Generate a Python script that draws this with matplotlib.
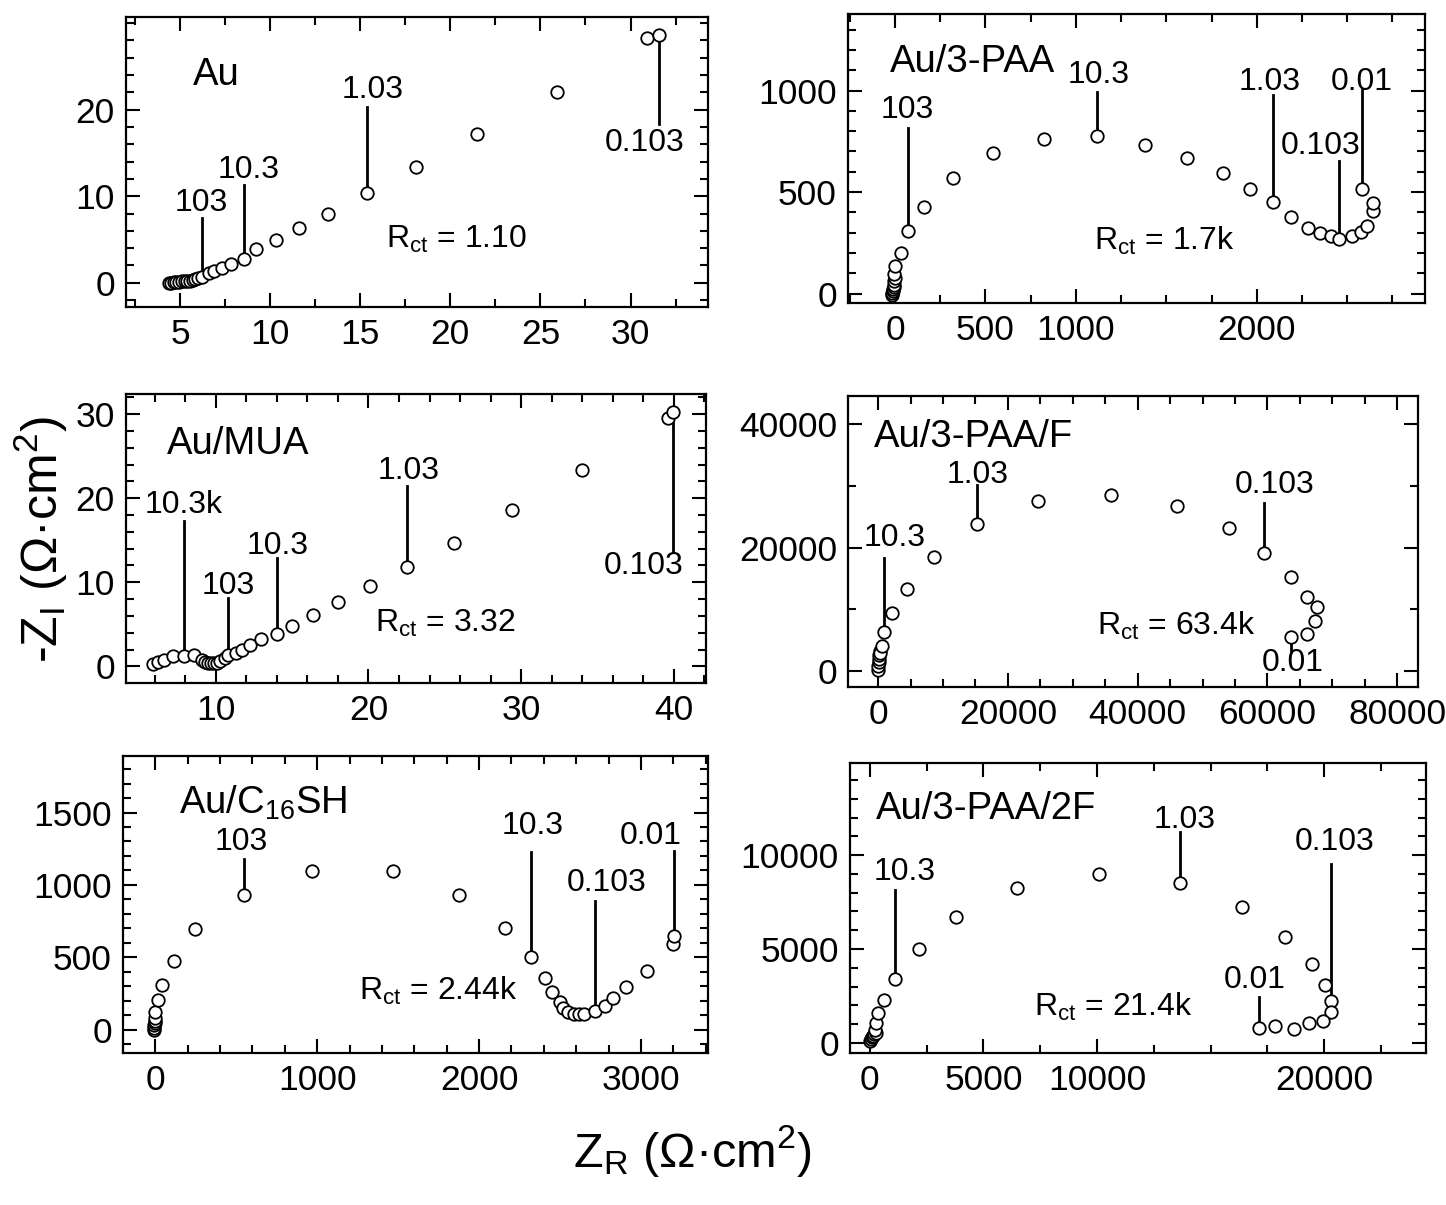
import matplotlib
matplotlib.use('Agg')
import matplotlib.pyplot as plt
from matplotlib.ticker import MultipleLocator, FixedLocator, FuncFormatter

plt.rcParams['font.family'] = ['Liberation Sans', 'DejaVu Sans']
plt.rcParams['mathtext.fontset'] = 'custom'
plt.rcParams['mathtext.rm'] = 'Liberation Sans'
plt.rcParams['mathtext.it'] = 'Liberation Sans'
plt.rcParams['mathtext.bf'] = 'Liberation Sans'

# ---------------- data ----------------
# Au
au_zr = [4.36, 4.5, 4.65, 4.8, 4.95, 5.1, 5.25, 5.4, 5.55, 5.7, 5.85, 6.0, 6.2, 6.6, 6.9, 7.35, 7.8,
         8.55, 9.2, 10.3, 11.6, 13.2, 15.4, 18.1, 21.5, 25.9, 30.9, 31.6]
au_zi = [-0.05, 0.0, 0.05, 0.1, 0.1, 0.15, 0.15, 0.2, 0.2, 0.3, 0.4, 0.5, 0.7, 1.1, 1.4, 1.75, 2.2,
         2.8, 3.9, 4.9, 6.3, 8.0, 10.4, 13.4, 17.2, 22.0, 28.3, 28.6]
au_lab = ['103', '10.3', '1.03', '0.103']
au_lab_idx = [12, 17, 22, 27]
au_lab_end = [7.45, 11.3, 20.3, 18.3]
au_lab_tx = [6.2, 8.8, 15.7, 30.8]
au_lab_ty = [9.2, 13.05, 22.3, 16.1]

# Au/3-PAA
paa_zr = [-15, -14, -12, -10, -8, -6, -4, -2, -8, 0, 31, 69, 158, 319, 541, 821, 1115, 1383, 1612,
          1811, 1964, 2089, 2191, 2281, 2352, 2408, 2454, 2526, 2574, 2607, 2645, 2640, 2582]
paa_zi = [-5, 5, 15, 25, 35, 45, 60, 75, 98, 134, 200, 307, 427, 571, 693, 762, 775, 734, 669,
          592, 514, 449, 378, 321, 297, 282, 269, 282, 302, 334, 405, 445, 514]
paa_lab = ['103', '10.3', '1.03', '0.103', '0.01']
paa_lab_idx = [11, 16, 21, 26, 32]
paa_lab_end = [816, 995, 979, 652, 1003]
paa_lab_tx = [69, 1128, 2071, 2352, 2582]
paa_lab_ty = [905, 1077, 1044, 726, 1044]

# Au/MUA
mua_zr = [5.93, 6.23, 6.6, 7.2, 7.9, 8.55, 9.1, 9.3, 9.5, 9.7, 9.9, 10.1, 10.3, 10.6, 10.8, 11.3,
          11.75, 12.26, 12.95, 14.0, 15.0, 16.4, 18.0, 20.1, 22.5, 25.6, 29.4, 34.0, 39.6, 39.96]
mua_zi = [0.24, 0.5, 0.8, 1.2, 1.23, 1.3, 0.8, 0.5, 0.4, 0.35, 0.35, 0.4, 0.6, 1.0, 1.3, 1.6,
          2.0, 2.6, 3.2, 3.8, 4.8, 6.1, 7.6, 9.5, 11.8, 14.7, 18.6, 23.4, 29.5, 30.2]
mua_lab = ['10.3k', '103', '10.3', '1.03', '0.103']
mua_lab_idx = [4, 14, 19, 24, 29]
mua_lab_end = [17.25, 8.1, 12.9, 21.4, 13.7]
mua_lab_tx = [7.9, 10.8, 14.07, 22.65, 38.0]
mua_lab_ty = [19.2, 9.56, 14.3, 23.2, 11.9]

# Au/3-PAA/F
f_zr = [0, 50, 100, 150, 200, 250, 357, 570, 860, 2140, 4500, 8570, 15200, 24640, 35930, 46070,
        54070, 59500, 63570, 66070, 67710, 67360, 66070, 63700]
f_zi = [200, 800, 1400, 2000, 2600, 3200, 2860, 4100, 6270, 9350, 13300, 18540, 23800, 27600,
        28490, 26760, 23140, 19190, 15190, 12050, 10320, 8160, 6000, 5570]
f_lab = ['10.3', '1.03', '0.103', '0.01']
f_lab_idx = [8, 12, 17, 23]
f_lab_end = [18270, 30050, 27190, 3135]
f_lab_tx = [2500, 15360, 61070, 63930]
f_lab_ty = [21500, 31680, 30160, 1240]

# Au/C16SH
c16_zr = [-10, -8, -6, -4, -2, 0, 0, 14, 43, 114, 243, 549, 966, 1466, 1877, 2157, 2323, 2406,
          2451, 2500, 2520, 2549, 2586, 2620, 2651, 2714, 2777, 2829, 2909, 3037, 3200, 3206]
c16_zi = [0, 15, 30, 45, 60, 80, 123, 204, 309, 476, 698, 930, 1097, 1097, 928, 703, 501, 355,
          258, 193, 151, 123, 107, 107, 107, 128, 165, 223, 297, 406, 592, 650]
c16_lab = ['103', '10.3', '0.103', '0.01']
c16_lab_idx = [11, 16, 25, 31]
c16_lab_end = [1179, 1225, 889, 1237]
c16_lab_tx = [529, 2329, 2786, 3063]
c16_lab_ty = [1295, 1410, 1016, 1341]

# Au/3-PAA/2F
f2_zr = [0, 50, 100, 150, 200, 250, 204, 265, 367, 612, 1082, 2143, 3776, 6490, 10100, 13670,
         16370, 18270, 19450, 20040, 20306, 20306, 19940, 19350, 18670, 17860, 17140]
f2_zi = [100, 200, 300, 400, 500, 550, 681, 1040, 1577, 2294, 3405, 5018, 6685, 8262, 8980, 8510,
         7220, 5645, 4210, 3065, 2240, 1630, 1183, 1075, 770, 914, 824]
f2_lab = ['10.3', '1.03', '0.103', '0.01']
f2_lab_idx = [10, 15, 20, 26]
f2_lab_end = [8120, 11250, 9500, 2470]
f2_lab_tx = [1531, 13840, 20470, 16940]
f2_lab_ty = [9100, 11880, 10720, 3370]

# ---------------- panel settings ----------------
W, H = 1446.0, 1205.0


def box(left, top, right, bottom):
    return [left / W, 1 - bottom / H, (right - left) / W, (bottom - top) / H]


panels = [
    dict(name='Au', zr=au_zr, zi=au_zi, lab=au_lab, idx=au_lab_idx, end=au_lab_end, tx=au_lab_tx, ty=au_lab_ty,
         rct='R$_{\\rm ct}$ = 1.10', pos=box(126, 17, 708, 307),
         xlim=(2.0, 34.3), ylim=(-2.8, 30.7), xmaj=[5, 10, 15, 20, 25, 30], xmin=2.5,
         ymaj=[0, 10, 20], ymin=2,
         tpos=(0.115, 0.80), rpos=(0.447, 0.233)),
    dict(name='Au/3-PAA', zr=paa_zr, zi=paa_zi, lab=paa_lab, idx=paa_lab_idx, end=paa_lab_end, tx=paa_lab_tx, ty=paa_lab_ty,
         rct='R$_{\\rm ct}$ = 1.7k', pos=box(848, 14, 1425, 303),
         xlim=(-260, 2930), ylim=(-46, 1377), xmaj=[0, 500, 1000, 2000], xmin=250,
         ymaj=[0, 500, 1000], ymin=100,
         tpos=(0.072, 0.835), rpos=(0.426, 0.214)),
    dict(name='Au/MUA', zr=mua_zr, zi=mua_zi, lab=mua_lab, idx=mua_lab_idx, end=mua_lab_end, tx=mua_lab_tx, ty=mua_lab_ty,
         rct='R$_{\\rm ct}$ = 3.32', pos=box(126, 394, 706, 683),
         xlim=(4.13, 42.1), ylim=(-1.98, 32.4), xmaj=[10, 20, 30, 40], xmin=2,
         ymaj=[0, 10, 20, 30], ymin=2,
         tpos=(0.071, 0.827), rpos=(0.429, 0.207)),
    dict(name='Au/3-PAA/F', zr=f_zr, zi=f_zi, lab=f_lab, idx=f_lab_idx, end=f_lab_end, tx=f_lab_tx, ty=f_lab_ty,
         rct='R$_{\\rm ct}$ = 63.4k', pos=box(848, 396, 1418, 687),
         xlim=(-4640, 83200), ylim=(-2594, 44540), xmaj=[0, 20000, 40000, 60000, 80000], xmin=5000,
         ymaj=[0, 20000, 40000], ymin=10000,
         tpos=(0.045, 0.86), rpos=(0.437, 0.211)),
    dict(name='Au/C$_{16}$SH', zr=c16_zr, zi=c16_zi, lab=c16_lab, idx=c16_lab_idx, end=c16_lab_end, tx=c16_lab_tx, ty=c16_lab_ty,
         rct='R$_{\\rm ct}$ = 2.44k', pos=box(123, 756, 708, 1053),
         xlim=(-200, 3414), ylim=(-160, 1890), xmaj=[0, 1000, 2000, 3000], xmin=200,
         ymaj=[0, 500, 1000, 1500], ymin=100,
         tpos=(0.095, 0.843), rpos=(0.403, 0.21)),
    dict(name='Au/3-PAA/2F', zr=f2_zr, zi=f2_zi, lab=f2_lab, idx=f2_lab_idx, end=f2_lab_end, tx=f2_lab_tx, ty=f2_lab_ty,
         rct='R$_{\\rm ct}$ = 21.4k', pos=box(850, 763, 1426, 1053),
         xlim=(-878, 24490), ylim=(-531, 14900), xmaj=[0, 5000, 10000, 20000], xmin=2500,
         ymaj=[0, 5000, 10000], ymin=1000,
         tpos=(0.045, 0.84), rpos=(0.32, 0.16)),
]

TICK_FS = 25.5
TITLE_FS = 27.5
LAB_FS = 23

fig = plt.figure(figsize=(14.46, 12.05), dpi=100)

for p in panels:
    ax = fig.add_axes(p['pos'])
    ax.plot(p['zr'], p['zi'], linestyle='none', marker='o', markersize=9,
            markerfacecolor='white', markeredgecolor='black', markeredgewidth=1.3, zorder=3)
    for t, i, e, tx, ty in zip(p['lab'], p['idx'], p['end'], p['tx'], p['ty']):
        x0 = p['zr'][i]
        y0 = p['zi'][i]
        ax.plot([x0, x0], [y0, e], color='black', lw=2.0, zorder=2)
        ax.text(tx, ty, t, fontsize=LAB_FS, ha='center', va='center', zorder=4)
    ax.text(p['tpos'][0], p['tpos'][1], p['name'], transform=ax.transAxes,
            fontsize=TITLE_FS, ha='left', va='center')
    ax.text(p['rpos'][0], p['rpos'][1], p['rct'], transform=ax.transAxes,
            fontsize=LAB_FS, ha='left', va='center')
    ax.set_xlim(*p['xlim'])
    ax.set_ylim(*p['ylim'])
    ax.xaxis.set_major_locator(FixedLocator(p['xmaj']))
    ax.xaxis.set_minor_locator(MultipleLocator(p['xmin']))
    ax.yaxis.set_major_locator(FixedLocator(p['ymaj']))
    ax.yaxis.set_minor_locator(MultipleLocator(p['ymin']))
    ax.xaxis.set_major_formatter(FuncFormatter(lambda v, pos: '%g' % v))
    ax.yaxis.set_major_formatter(FuncFormatter(lambda v, pos: '%g' % v))
    ax.tick_params(which='both', direction='in', top=True, right=True, width=1.5,
                   labelsize=TICK_FS, pad=8)
    ax.tick_params(which='major', length=10)
    ax.tick_params(which='minor', length=6)
    for s in ax.spines.values():
        s.set_linewidth(1.6)

fig.text(0.028, 0.552, '-Z$_{\\rm I}$ (Ω·cm$^2$)', rotation=90, fontsize=36,
         ha='center', va='center')
fig.text(0.479, 0.045, 'Z$_{\\rm R}$ (Ω·cm$^2$)', fontsize=35, ha='center', va='center')

fig.savefig('out.png', dpi=100)
